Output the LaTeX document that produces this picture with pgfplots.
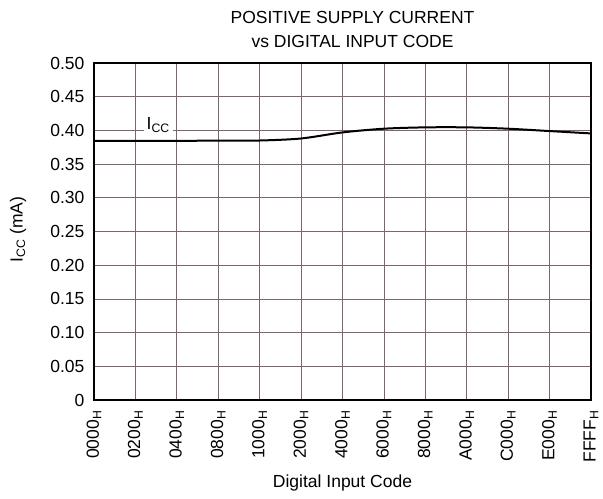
\documentclass[border=0pt]{standalone}
\usepackage{pgfplots}
\pgfplotsset{compat=1.18}
\usepackage{fontspec}
\setmainfont{Liberation Sans}
\definecolor{gridc}{RGB}{125,100,115}
\begin{document}
\begin{tikzpicture}[x=1pt,y=1pt]
\begin{axis}[
  name=ax,
  scale only axis,
  width=497pt, height=337pt,
  xmin=0, xmax=12, ymin=0, ymax=0.5,
  xtick={0,...,12},
  xticklabels={0000\textsubscript{H},0200\textsubscript{H},0400\textsubscript{H},0800\textsubscript{H},1000\textsubscript{H},2000\textsubscript{H},4000\textsubscript{H},6000\textsubscript{H},8000\textsubscript{H},A000\textsubscript{H},C000\textsubscript{H},E000\textsubscript{H},FFFF\textsubscript{H}},
  ytick={0,0.05,...,0.5},
  yticklabels={0,0.05,0.10,0.15,0.20,0.25,0.30,0.35,0.40,0.45,0.50},
  /pgf/number format/assume math mode=true,
  major tick length=0pt,
  tick label style={font=\fontsize{17.5}{20}\selectfont},
  x tick label style={rotate=90, anchor=east},
  xticklabel shift=7pt,
  yticklabel shift=6pt,
  grid=major,
  major grid style={draw=gridc, line width=0.7pt},
  axis line style={line width=1.6pt},
  xlabel={Digital Input Code},
  xlabel style={font=\fontsize{17.5}{20}\selectfont, at={(axis description cs:0.5,0)}, anchor=center, yshift=-83pt},
  ylabel={I\textsubscript{CC} (mA)},
  ylabel style={font=\fontsize{17.5}{20}\selectfont, at={(axis description cs:0,0.5)}, anchor=center, yshift=76pt, xshift=2pt},
  title={POSITIVE SUPPLY CURRENT\\vs DIGITAL INPUT CODE},
  title style={font=\fontsize{17.5}{23.5}\selectfont, align=center, at={(axis description cs:0.5,1)}, anchor=south, xshift=10pt, yshift=6pt},
]
\addplot[black, line width=2pt, smooth, tension=0.5] coordinates {
 (0,0.3845) (1,0.3845) (2,0.3845) (3,0.3848) (4,0.3850) (5,0.388) (6,0.397) (7,0.4025) (8,0.4045) (9,0.4045) (10,0.4025) (11,0.399) (12,0.3955)
};
\node[fill=white, inner xsep=3pt, inner ysep=1pt, anchor=south, font=\fontsize{17.5}{20}\selectfont] at (axis cs:1.55,0.3955) {I\textsubscript{CC}};
\end{axis}
\pgfresetboundingbox
\path (ax.south west) ++(-94pt,-99pt) coordinate (bl);
\path (ax.north east) ++(12pt,63pt) coordinate (tr);
\path[use as bounding box] (bl) rectangle (tr);
\end{tikzpicture}
\end{document}
